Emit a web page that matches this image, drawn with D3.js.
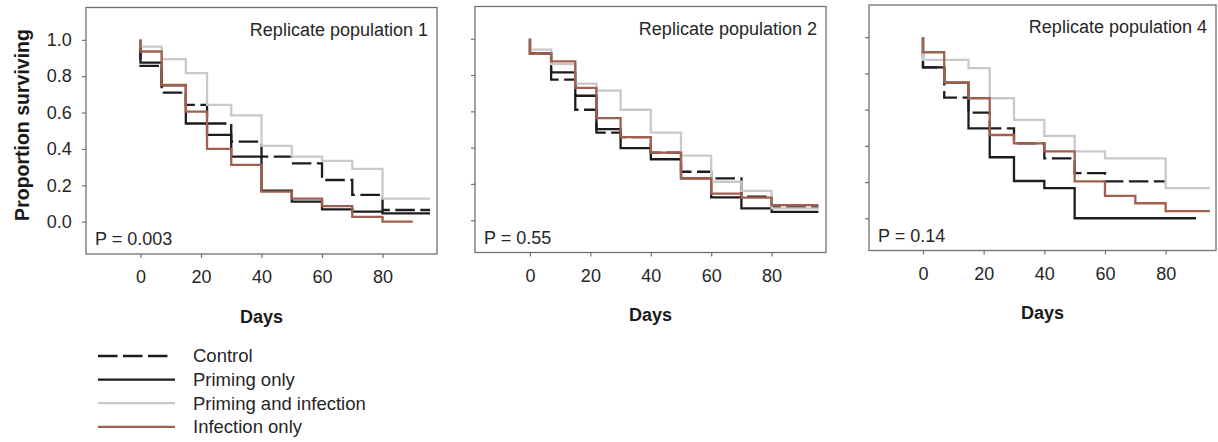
<!DOCTYPE html>
<html>
<head>
<meta charset="utf-8">
<script src="https://cdn.jsdelivr.net/npm/d3@7"></script>
<style>
  body { margin: 0; background: #fff; }
  svg { display: block; font-family: "Liberation Sans", Arial, sans-serif; }
</style>
</head>
<body>
<div id="chart"></div>
<script>
// Data (Kaplan-Meier survival, step at each census day)
var days = [0, 7, 15, 22, 30, 40, 50, 60, 70, 80];
var xTicks = [0, 20, 40, 60, 80];
var yTicks = [0, 0.2, 0.4, 0.6, 0.8, 1.0];
var seriesNames = ["Control", "Priming only", "Priming and infection", "Infection only"];
var panelTitles = ["Replicate population 1", "Replicate population 2", "Replicate population 4"];
var pLabels = ["P = 0.003", "P = 0.55", "P = 0.14"];

// replicate 1
var control1   = [0.857, 0.71, 0.642, 0.54, 0.44, 0.358, 0.32, 0.229, 0.147, 0.064];
var priming1   = [0.875, 0.75, 0.54, 0.477, 0.358, 0.17, 0.11, 0.068, 0.055, 0.046];
var primInf1   = [0.963, 0.894, 0.817, 0.642, 0.585, 0.417, 0.358, 0.334, 0.29, 0.127];
var infection1 = [0.936, 0.752, 0.605, 0.40, 0.312, 0.165, 0.127, 0.085, 0.026, 0.0];
var lastDay1   = [95.7, 95.7, 95.7, 90];

// replicate 2
var control2   = [0.92, 0.775, 0.609, 0.483, 0.458, 0.373, 0.267, 0.231, 0.13, 0.07];
var priming2   = [0.92, 0.815, 0.686, 0.502, 0.397, 0.336, 0.231, 0.126, 0.065, 0.046];
var primInf2   = [0.94, 0.86, 0.753, 0.714, 0.609, 0.483, 0.356, 0.212, 0.162, 0.065];
var infection2 = [0.92, 0.876, 0.729, 0.563, 0.458, 0.373, 0.231, 0.146, 0.125, 0.083];
var lastDay2   = [95.5, 95.5, 95.5, 95.5];

// replicate 4
var control3   = [0.834, 0.666, 0.584, 0.497, 0.414, 0.331, 0.249, 0.204];
var priming3   = [0.834, 0.749, 0.497, 0.337, 0.206, 0.166, 0.0];
var primInf3   = [0.875, 0.875, 0.829, 0.663, 0.543, 0.455, 0.37, 0.331, 0.331, 0.166];
var infection3 = [0.917, 0.749, 0.663, 0.46, 0.414, 0.37, 0.204, 0.124, 0.083, 0.04];
var lastDay3   = [80, 90, 94.6, 94.6];

var panelSeries = [
  [control1, priming1, primInf1, infection1],
  [control2, priming2, primInf2, infection2],
  [control3, priming3, primInf3, infection3]
];
var panelLastDays = [lastDay1, lastDay2, lastDay3];

// styling
var colors = ["#1c1c1c", "#1c1c1c", "#c9c9c9", "#a15f4e"];
var dashes = ["19.5,5.5", null, null, null];
var lineW = 2.3;
var textCol = "#262626";
var frameCol = "#707070";

// panel boxes (pixels) and x extent of each frame
var panels = [
  {l: 86,  r: 437,  t: 7.5, b: 254,   xmin: -18,   xmax: 98},
  {l: 475, r: 826,  t: 6.5, b: 252.5, xmin: -18.2, xmax: 98},
  {l: 869, r: 1216, t: 5,   b: 250.5, xmin: -17.8, xmax: 96.6}
];

var svg = d3.select("#chart")
  .append("svg")
    .attr("width", 1218)
    .attr("height", 442);

panels.forEach(function(p, i) {
  var x = d3.scaleLinear().domain([p.xmin, p.xmax]).range([p.l, p.r]);
  var y = d3.scaleLinear().domain([-0.178, 1.178]).range([p.b, p.t]);
  var g = svg.append("g");

  // axes
  var xa = g.append("g")
    .attr("transform", "translate(0," + p.b + ")")
    .call(d3.axisBottom(x).tickValues(xTicks).tickSize(4).tickPadding(12.5).tickSizeOuter(0));
  var ya = g.append("g")
    .attr("transform", "translate(" + p.l + ",0)")
    .call(d3.axisLeft(y).tickValues(yTicks).tickSize(4).tickPadding(10.3).tickSizeOuter(0)
      .tickFormat(i == 0 ? d3.format(".1f") : ""));
  [xa, ya].forEach(function(a) {
    a.select(".domain").remove();
    a.selectAll("line").attr("stroke", frameCol).attr("stroke-width", 1.2);
    a.selectAll("text").attr("fill", textCol).style("font-size", "18px");
  });

  // frame
  g.append("rect")
    .attr("x", p.l).attr("y", p.t)
    .attr("width", p.r - p.l).attr("height", p.b - p.t)
    .attr("fill", "none")
    .attr("stroke", frameCol)
    .attr("stroke-width", 1.3);

  // survival curves
  var line = d3.line()
    .x(function(d) { return x(d[0]); })
    .y(function(d) { return y(d[1]); })
    .curve(d3.curveStepAfter);

  panelSeries[i].forEach(function(vals, s) {
    var pts = [[0, 1.0]];
    vals.forEach(function(v, k) { pts.push([days[k], v]); });
    pts.push([panelLastDays[i][s], vals[vals.length - 1]]);
    g.append("path")
      .attr("d", line(pts))
      .attr("fill", "none")
      .attr("stroke", colors[s])
      .attr("stroke-width", lineW)
      .attr("stroke-dasharray", dashes[s]);
  });

  // panel texts
  g.append("text")
    .attr("x", p.r - 9)
    .attr("y", p.t + 28)
    .attr("text-anchor", "end")
    .attr("fill", textCol)
    .style("font-size", "18px")
    .text(panelTitles[i]);

  g.append("text")
    .attr("x", p.l + 9)
    .attr("y", p.b - 9)
    .attr("fill", textCol)
    .style("font-size", "18px")
    .text(pLabels[i]);

  g.append("text")
    .attr("x", (p.l + p.r) / 2)
    .attr("y", p.b + 68.7)
    .attr("text-anchor", "middle")
    .attr("fill", "#1a1a1a")
    .style("font-size", "18px")
    .style("font-weight", "bold")
    .text("Days");
});

// y axis title
svg.append("text")
  .attr("transform", "translate(29,125) rotate(-90)")
  .attr("text-anchor", "middle")
  .attr("fill", "#1a1a1a")
  .style("font-size", "19.5px")
  .style("font-weight", "bold")
  .text("Proportion surviving");

// legend
var legend = svg.append("g");
seriesNames.forEach(function(name, s) {
  var ly = 356 + s * 23.6;
  legend.append("line")
    .attr("x1", 98).attr("x2", s == 0 ? 168 : 175)
    .attr("y1", ly).attr("y2", ly)
    .attr("stroke", colors[s])
    .attr("stroke-width", lineW)
    .attr("stroke-dasharray", dashes[s]);
  legend.append("text")
    .attr("x", 193)
    .attr("y", ly)
    .attr("dy", "0.35em")
    .attr("fill", textCol)
    .style("font-size", "18.5px")
    .text(name);
});
</script>
</body>
</html>
